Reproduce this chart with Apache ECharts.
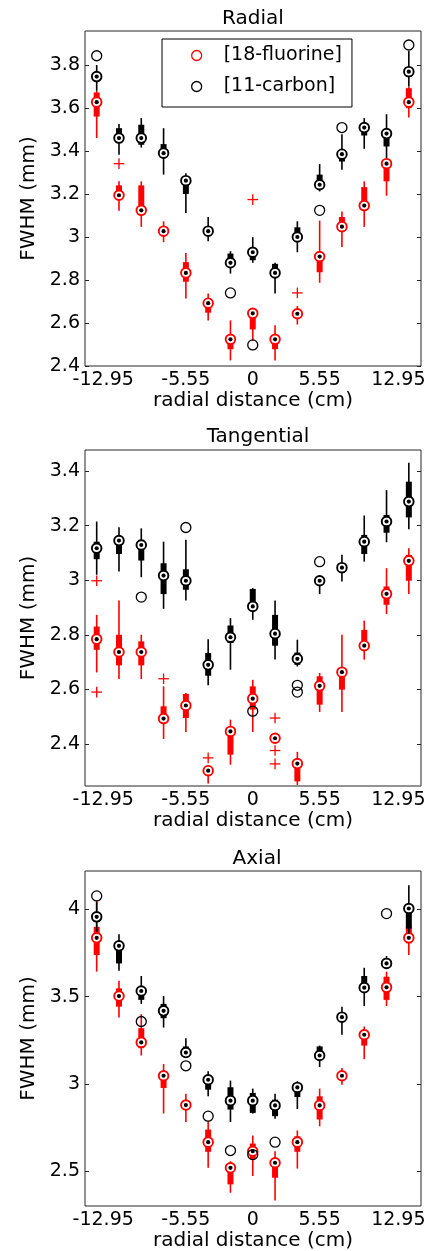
<!DOCTYPE html>
<html>
<head>
<meta charset="utf-8">
<script src="https://cdn.jsdelivr.net/npm/echarts@6/dist/echarts.min.js"></script>
<style>
  html, body { margin: 0; padding: 0; background: #fff; }
  #chart { width: 430px; height: 1251px; }
</style>
</head>
<body>
<div id="chart"></div>
<script>
// Source positions along the radial direction (cm)
const radialDistance = [-12.95, -11.1, -9.25, -7.4, -5.55, -3.7, -1.85, 0, 1.85, 3.7, 5.55, 7.4, 9.25, 11.1, 12.95];
const xTickValues = [-12.95, -5.55, 0, 5.55, 12.95];

// Y tick values of each panel (mm)
const radialTicks = [2.4, 2.6, 2.8, 3, 3.2, 3.4, 3.6, 3.8];
const tangentialTicks = [2.4, 2.6, 2.8, 3, 3.2, 3.4];
const axialTicks = [2.5, 3, 3.5, 4];

// Box statistics per position: [lower whisker, q1, median, q3, upper whisker]
const radialF18 = [
  [3.46, 3.56, 3.627, 3.672, 3.68], [3.122, 3.189, 3.194, 3.24, 3.259], [3.047, 3.119, 3.124, 3.24, 3.259],
  [2.976, 3.011, 3.027, 3.042, 3.073], [2.714, 2.792, 2.833, 2.883, 2.925], [2.612, 2.648, 2.692, 2.714, 2.737],
  [2.426, 2.478, 2.524, 2.532, 2.612], [2.516, 2.57, 2.645, 2.652, 2.663], [2.426, 2.478, 2.524, 2.532, 2.59],
  [2.593, 2.625, 2.643, 2.663, 2.679], [2.787, 2.836, 2.909, 2.918, 3.076], [2.954, 3.042, 3.048, 3.093, 3.119],
  [3.047, 3.135, 3.146, 3.232, 3.259], [3.192, 3.259, 3.341, 3.351, 3.367], [3.556, 3.599, 3.627, 3.692, 3.7]
];
const radialC11 = [
  [3.68, 3.73, 3.746, 3.761, 3.8], [3.382, 3.455, 3.46, 3.506, 3.525], [3.416, 3.429, 3.46, 3.522, 3.553],
  [3.29, 3.385, 3.39, 3.432, 3.506], [3.112, 3.2, 3.262, 3.277, 3.297], [2.98, 3.015, 3.027, 3.04, 3.093],
  [2.83, 2.875, 2.88, 2.923, 2.934], [2.88, 2.892, 2.929, 2.942, 2.999], [2.737, 2.826, 2.833, 2.875, 2.88],
  [2.929, 2.995, 3.0, 3.045, 3.073], [3.212, 3.235, 3.243, 3.29, 3.339], [3.313, 3.351, 3.385, 3.39, 3.478],
  [3.41, 3.472, 3.509, 3.522, 3.553], [3.367, 3.421, 3.481, 3.494, 3.571], [3.7, 3.745, 3.769, 3.79, 3.865]
];
const radialF18Outliers = [[-11.1, 3.341], [0, 3.174], [3.7, 2.74]];
const radialC11Outliers = [[-12.95, 3.843], [-1.85, 2.74], [0, 2.498], [5.55, 3.124], [7.4, 3.509], [12.95, 3.893]];

const tangentialF18 = [
  [2.662, 2.745, 2.784, 2.83, 2.873], [2.638, 2.688, 2.737, 2.8, 2.926], [2.638, 2.688, 2.737, 2.776, 2.8],
  [2.418, 2.49, 2.493, 2.538, 2.611], [2.444, 2.495, 2.541, 2.583, 2.587], [2.255, 2.295, 2.302, 2.31, 2.312],
  [2.324, 2.361, 2.446, 2.452, 2.489], [2.444, 2.526, 2.566, 2.611, 2.635], [2.41, 2.415, 2.421, 2.428, 2.435],
  [2.25, 2.263, 2.328, 2.343, 2.371], [2.517, 2.544, 2.613, 2.648, 2.66], [2.517, 2.599, 2.663, 2.678, 2.8],
  [2.709, 2.745, 2.76, 2.818, 2.852], [2.876, 2.91, 2.95, 2.977, 3.044], [2.949, 2.998, 3.071, 3.093, 3.117]
];
const tangentialC11 = [
  [3.02, 3.077, 3.117, 3.141, 3.215], [3.032, 3.096, 3.145, 3.15, 3.194], [3.011, 3.072, 3.129, 3.148, 3.19],
  [2.895, 2.949, 3.017, 3.062, 3.141], [2.926, 2.965, 2.998, 3.04, 3.148], [2.615, 2.65, 2.69, 2.733, 2.784],
  [2.672, 2.77, 2.791, 2.834, 2.861], [2.855, 2.895, 2.904, 2.968, 2.971], [2.709, 2.76, 2.804, 2.873, 2.926],
  [2.684, 2.69, 2.712, 2.735, 2.782], [2.949, 2.99, 2.998, 3.013, 3.015], [2.995, 3.028, 3.046, 3.062, 3.093],
  [3.068, 3.096, 3.141, 3.166, 3.237], [3.139, 3.174, 3.215, 3.239, 3.33], [3.187, 3.23, 3.288, 3.361, 3.43]
];
const tangentialF18Outliers = [[-12.95, 2.998], [-12.95, 2.59], [-7.4, 2.639], [-3.7, 2.349], [1.85, 2.495], [1.85, 2.376], [1.85, 2.327]];
const tangentialC11Outliers = [[-9.25, 2.938], [-5.55, 3.193], [0, 2.52], [3.7, 2.615], [3.7, 2.59], [5.55, 3.068]];

const axialF18 = [
  [3.644, 3.739, 3.838, 3.901, 4.05], [3.381, 3.443, 3.504, 3.548, 3.592], [3.163, 3.205, 3.238, 3.32, 3.4],
  [2.83, 2.977, 3.047, 3.06, 3.114], [2.782, 2.87, 2.879, 2.89, 2.944], [2.519, 2.611, 2.666, 2.738, 2.786],
  [2.376, 2.424, 2.519, 2.53, 2.557], [2.472, 2.567, 2.614, 2.658, 2.704], [2.332, 2.462, 2.548, 2.56, 2.614],
  [2.515, 2.611, 2.666, 2.7, 2.733], [2.757, 2.796, 2.877, 2.929, 2.973], [2.996, 3.024, 3.047, 3.07, 3.091],
  [3.142, 3.22, 3.282, 3.31, 3.329], [3.447, 3.482, 3.554, 3.615, 3.644], [3.739, 3.806, 3.838, 3.9, 3.905]
];
const axialC11 = [
  [3.872, 3.929, 3.958, 3.968, 4.044], [3.649, 3.691, 3.792, 3.8, 3.859], [3.459, 3.482, 3.533, 3.548, 3.619],
  [3.323, 3.377, 3.419, 3.459, 3.504], [3.161, 3.165, 3.18, 3.215, 3.262], [2.929, 2.967, 3.024, 3.03, 3.072],
  [2.782, 2.853, 2.904, 2.981, 3.019], [2.83, 2.834, 2.904, 2.948, 2.973], [2.801, 2.815, 2.877, 2.91, 2.944],
  [2.856, 2.925, 2.98, 2.996, 3.015], [3.097, 3.139, 3.163, 3.215, 3.22], [3.282, 3.375, 3.383, 3.39, 3.443],
  [3.447, 3.529, 3.552, 3.619, 3.666], [3.66, 3.672, 3.691, 3.72, 3.733], [3.863, 3.891, 4.006, 4.015, 4.139]
];
const axialF18Outliers = [];
const axialC11Outliers = [[-12.95, 4.078], [-9.25, 3.358], [-5.55, 3.104], [-3.7, 2.815], [-1.85, 2.618], [0, 2.595], [1.85, 2.666], [11.1, 3.977]];

const FONT = 'DejaVu Sans';
const RED = '#ff0000';
const BLACK = '#000000';
const FRAME = '#262626';
const F18_NAME = '[18-fluorine]';
const C11_NAME = '[11-carbon]';

const panels = [
  { title: 'Radial', titleX: 253, titleTop: 9, top: 31, height: 335, yMin: 2.4, yMax: 3.958,
    ticks: radialTicks, f18: radialF18, c11: radialC11, f18Out: radialF18Outliers, c11Out: radialC11Outliers },
  { title: 'Tangential', titleX: 258, titleTop: 427, top: 450, height: 336, yMin: 2.246, yMax: 3.477,
    ticks: tangentialTicks, f18: tangentialF18, c11: tangentialC11, f18Out: tangentialF18Outliers, c11Out: tangentialC11Outliers },
  { title: 'Axial', titleX: 257, titleTop: 849, top: 871, height: 335, yMin: 2.3, yMax: 4.221,
    ticks: axialTicks, f18: axialF18, c11: axialC11, f18Out: axialF18Outliers, c11Out: axialC11Outliers }
];

// Compact box: thin whisker, thick box, ringed median with a centre dot
function boxRenderer(color) {
  return function (params, api) {
    const x = api.value(0);
    const lo = api.coord([x, api.value(1)]);
    const q1 = api.coord([x, api.value(2)]);
    const med = api.coord([x, api.value(3)]);
    const q3 = api.coord([x, api.value(4)]);
    const hi = api.coord([x, api.value(5)]);
    const cx = med[0];
    return {
      type: 'group',
      children: [
        { type: 'line', shape: { x1: cx, y1: lo[1], x2: cx, y2: hi[1] }, style: { stroke: color, lineWidth: 1.6 } },
        { type: 'rect', shape: { x: cx - 3, y: q3[1], width: 6, height: Math.max(q1[1] - q3[1], 0) }, style: { fill: color } },
        { type: 'circle', shape: { cx: cx, cy: med[1], r: 4.8 }, style: { fill: '#ffffff', stroke: color, lineWidth: 1.9 } },
        { type: 'circle', shape: { cx: cx, cy: med[1], r: 2.1 }, style: { fill: '#000000' } }
      ]
    };
  };
}

// Outliers: '+' for fluorine, open circles for carbon
function plusRenderer(color) {
  return function (params, api) {
    const p = api.coord([api.value(0), api.value(1)]);
    const h = 5.3;
    return {
      type: 'group',
      children: [
        { type: 'line', shape: { x1: p[0] - h, y1: p[1], x2: p[0] + h, y2: p[1] }, style: { stroke: color, lineWidth: 1.3 } },
        { type: 'line', shape: { x1: p[0], y1: p[1] - h, x2: p[0], y2: p[1] + h }, style: { stroke: color, lineWidth: 1.3 } }
      ]
    };
  };
}
function ringRenderer(color) {
  return function (params, api) {
    const p = api.coord([api.value(0), api.value(1)]);
    return { type: 'circle', shape: { cx: p[0], cy: p[1], r: 5 }, style: { fill: 'none', stroke: color, lineWidth: 1.3 } };
  };
}

const labelStyle = { fontFamily: FONT, fontSize: 19, color: '#000' };
const nameStyle = { fontFamily: FONT, fontSize: 20, color: '#000' };

const grids = [], xAxes = [], yAxes = [], series = [], titles = [];

panels.forEach((p, i) => {
  grids.push({ left: 85, top: p.top, width: 336, height: p.height, show: true, borderColor: FRAME, borderWidth: 1,
    containLabel: false, outerBoundsMode: 'none' });
  titles.push({ text: p.title, left: p.titleX, top: p.titleTop, textAlign: 'center', padding: 0,
    textStyle: { fontFamily: FONT, fontSize: 20, fontWeight: 'normal', color: '#000' } });

  xAxes.push({
    gridIndex: i, type: 'value', min: -13.92, max: 13.96, position: 'bottom',
    axisLine: { show: false, onZero: false }, axisTick: { show: false }, splitLine: { show: false },
    axisLabel: Object.assign({
      customValues: xTickValues, margin: 5,
      formatter: v => v === xTickValues[0] ? '{first|' + v + '}'
        : v === xTickValues[xTickValues.length - 1] ? '{last|' + v + '}' : String(v),
      rich: {
        first: Object.assign({ padding: [0, 0, 0, 13] }, labelStyle),
        last: Object.assign({ padding: [0, 21, 0, 0] }, labelStyle)
      }
    }, labelStyle),
    name: 'radial distance (cm)', nameLocation: 'middle', nameGap: 22, nameTextStyle: nameStyle
  });

  yAxes[i] = {
    gridIndex: i, type: 'value', min: p.yMin, max: p.yMax, position: 'left',
    axisLine: { show: false, onZero: false }, splitLine: { show: false },
    axisTick: { show: true, inside: true, length: 4, customValues: p.ticks, lineStyle: { color: FRAME } },
    axisLabel: Object.assign({ customValues: p.ticks, margin: 5 }, labelStyle),
    name: 'FWHM (mm)', nameLocation: 'middle', nameGap: 46, nameRotate: 90, nameTextStyle: nameStyle
  };
  yAxes[i + 3] = {
    gridIndex: i, type: 'value', min: p.yMin, max: p.yMax, position: 'right',
    axisLine: { show: false, onZero: false }, splitLine: { show: false }, axisLabel: { show: false },
    axisTick: { show: true, inside: true, length: 4, customValues: p.ticks, lineStyle: { color: FRAME } }
  };

  const rows = arr => radialDistance.map((x, k) => [x].concat(arr[k]));
  const common = { type: 'custom', xAxisIndex: i, yAxisIndex: i, animation: false };

  series.push(Object.assign({ name: F18_NAME, itemStyle: { color: RED }, renderItem: boxRenderer(RED), data: rows(p.f18), z: 2 }, common));
  series.push(Object.assign({ name: F18_NAME, itemStyle: { color: RED }, renderItem: plusRenderer(RED), data: p.f18Out, z: 2 }, common));
  series.push(Object.assign({ name: C11_NAME, itemStyle: { color: BLACK }, renderItem: boxRenderer(BLACK), data: rows(p.c11), z: 3 }, common));
  series.push(Object.assign({ name: C11_NAME, itemStyle: { color: BLACK }, renderItem: ringRenderer(BLACK), data: p.c11Out, z: 3 }, common));
});

const chart = echarts.init(document.getElementById('chart'), null, { renderer: 'canvas' });
chart.setOption({
  backgroundColor: '#ffffff',
  animation: false,
  title: titles,
  legend: {
    orient: 'vertical', left: 162, top: 39,
    padding: [7, 10, 11, 29],
    itemWidth: 10, itemHeight: 10, itemGap: 12,
    borderColor: '#000', borderWidth: 1, backgroundColor: '#fff',
    selectedMode: false,
    formatter: name => '{t|' + name + '}',
    textStyle: { fontFamily: FONT, fontSize: 19, color: '#000',
      rich: { t: { fontFamily: FONT, fontSize: 19, color: '#000', padding: [0, 0, 0, 17] } } },
    data: [
      { name: F18_NAME, icon: 'circle', itemStyle: { color: 'rgba(0,0,0,0)', borderColor: RED, borderWidth: 1.3 } },
      { name: C11_NAME, icon: 'circle', itemStyle: { color: 'rgba(0,0,0,0)', borderColor: BLACK, borderWidth: 1.3 } }
    ]
  },
  grid: grids,
  xAxis: xAxes,
  yAxis: yAxes,
  series: series
});
</script>
</body>
</html>
